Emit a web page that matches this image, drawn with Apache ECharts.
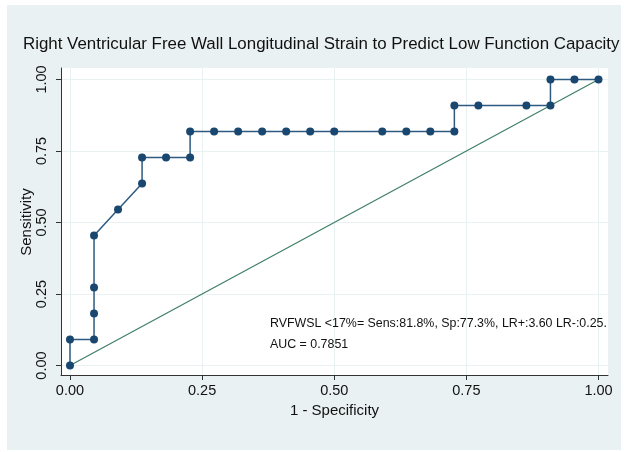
<!DOCTYPE html>
<html>
<head>
<meta charset="utf-8">
<script src="https://cdn.jsdelivr.net/npm/echarts@6/dist/echarts.min.js"></script>
<style>
  html, body { margin: 0; padding: 0; background: #ffffff; }
  #panel { position: absolute; left: 7px; top: 5px; width: 614px; height: 445px; background: #eaf1f3; }
  #chart { position: absolute; left: 0; top: 0; width: 624px; height: 452px; }
</style>
</head>
<body>
<div id="panel"></div>
<div id="chart"></div>
<script>
// ROC curve points (1 - specificity, sensitivity)
var oneMinusSpec = [0, 0, 0.0455, 0.0455, 0.0455, 0.0455, 0.0909, 0.1364, 0.1364, 0.1818, 0.2273, 0.2273,
  0.2727, 0.3182, 0.3636, 0.4091, 0.4545, 0.5000, 0.5909, 0.6364, 0.6818, 0.7273, 0.7273,
  0.7727, 0.8636, 0.9091, 0.9091, 0.9545, 1.0];
var sensitivity = [0, 0.0909, 0.0909, 0.1818, 0.2727, 0.4545, 0.5455, 0.6364, 0.7273, 0.7273, 0.7273, 0.8182,
  0.8182, 0.8182, 0.8182, 0.8182, 0.8182, 0.8182, 0.8182, 0.8182, 0.8182, 0.8182, 0.9091,
  0.9091, 0.9091, 0.9091, 1.0, 1.0, 1.0];
var referenceX = [0, 1];
var referenceY = [0, 1];
var tickValues = [0, 0.25, 0.5, 0.75, 1];
var titleText = 'Right Ventricular Free Wall Longitudinal Strain to Predict Low Function Capacity';
var noteLine1 = 'RVFWSL <17%= Sens:81.8%, Sp:77.3%, LR+:3.60 LR-:0.25.';
var noteLine2 = 'AUC = 0.7851';
var xTitle = '1 - Specificity';
var yTitle = 'Sensitivity';

var font = '"Liberation Sans", Arial, Helvetica, sans-serif';
var rocData = oneMinusSpec.map(function (x, i) { return [x, sensitivity[i]]; });
var refData = referenceX.map(function (x, i) { return [x, referenceY[i]]; });

var chart = echarts.init(document.getElementById('chart'), null, { renderer: 'canvas' });
chart.setOption({
  animation: false,
  backgroundColor: 'transparent',
  title: {
    text: titleText,
    left: 18,
    top: 31,
    textStyle: { fontFamily: font, fontSize: 16.9, fontWeight: 'normal', color: '#111' }
  },
  grid: {
    left: 61, top: 68, right: 16, bottom: 77,
    show: true, backgroundColor: '#ffffff', borderWidth: 0
  },
  xAxis: {
    type: 'value',
    min: -0.017, max: 1.018,
    name: xTitle,
    nameLocation: 'middle',
    nameGap: 27,
    nameTextStyle: { fontFamily: font, fontSize: 15, color: '#111' },
    axisLine: { show: true, onZero: false, lineStyle: { color: '#333', width: 1 } },
    axisTick: { show: true, length: 5, customValues: tickValues, lineStyle: { color: '#333' } },
    axisLabel: {
      customValues: tickValues,
      fontFamily: font, fontSize: 14.5, color: '#111', margin: 8,
      formatter: function (v) { return v.toFixed(2); }
    },
    splitLine: { show: true, lineStyle: { color: '#eaf1f3', width: 1 } }
  },
  yAxis: {
    type: 'value',
    min: -0.033, max: 1.04,
    axisLine: { show: true, onZero: false, lineStyle: { color: '#333', width: 1 } },
    axisTick: { show: true, length: 5, customValues: tickValues, lineStyle: { color: '#333' } },
    axisLabel: {
      customValues: tickValues,
      rotate: 90,
      fontFamily: font, fontSize: 14.5, color: '#111', margin: 12,
      formatter: function (v) { return v.toFixed(2); }
    },
    splitLine: { show: true, lineStyle: { color: '#eaf1f3', width: 1 } }
  },
  series: [
    {
      type: 'line',
      data: refData,
      showSymbol: false,
      lineStyle: { color: '#3f7f66', width: 1.2 },
      z: 3
    },
    {
      type: 'line',
      data: rocData,
      symbol: 'circle',
      symbolSize: 8,
      itemStyle: { color: '#1a476f' },
      lineStyle: { color: '#2d5a80', width: 1.5 },
      z: 4
    }
  ],
  graphic: [
    {
      type: 'text',
      x: 27, y: 222,
      rotation: Math.PI / 2,
      style: { text: yTitle, fontFamily: font, fontSize: 15, fill: '#111', align: 'center', verticalAlign: 'middle' },
      z: 10
    },
    {
      type: 'text',
      left: 270, top: 318,
      style: { text: noteLine1, fontFamily: font, fontSize: 12.4, fill: '#111' },
      z: 10
    },
    {
      type: 'text',
      left: 270, top: 339,
      style: { text: noteLine2, fontFamily: font, fontSize: 12.4, fill: '#111' },
      z: 10
    }
  ]
});
</script>
</body>
</html>
